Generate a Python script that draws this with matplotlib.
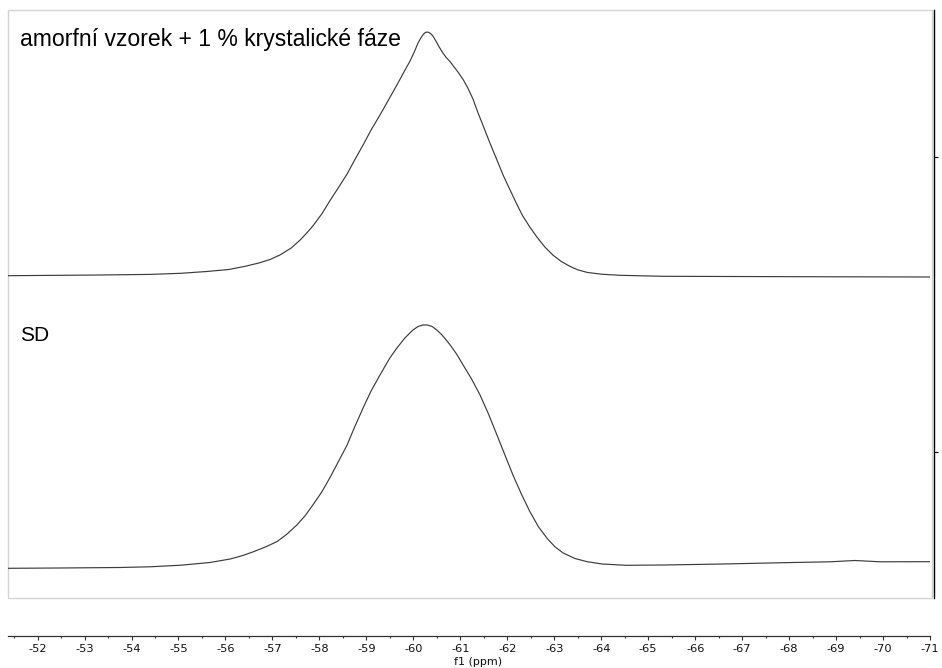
import matplotlib
matplotlib.use("Agg")
import matplotlib.pyplot as plt
from matplotlib.patches import Rectangle
from matplotlib.ticker import MultipleLocator, FixedLocator

plt.rcParams["axes.unicode_minus"] = False

# chemical shift (ppm) and intensity
shift_top = [-51.37, -53.33, -54.40, -55.05, -55.60, -56.07, -56.40, -56.71,
             -56.95, -57.16, -57.40, -57.59, -57.75, -57.86, -58.05, -58.22,
             -58.40, -58.59, -58.75, -58.93, -59.10, -59.29, -59.47, -59.65,
             -59.80, -59.93, -60.02, -60.10, -60.16, -60.21, -60.25, -60.29,
             -60.33, -60.38, -60.43, -60.48, -60.55, -60.63, -60.70, -60.78,
             -60.86, -60.95, -61.06, -61.16, -61.27, -61.37, -61.48, -61.63,
             -61.78, -61.92, -62.06, -62.20, -62.33, -62.48, -62.63, -62.80,
             -62.97, -63.15, -63.34, -63.50, -63.70, -64.00, -64.40, -65.32,
             -68.23, -71.0]
inten_top = [4.3, 5, 5.6, 6.7, 8.5, 10.5, 13.5, 17,
             20.5, 25, 32, 40, 48, 54, 66, 79,
             92, 106, 120, 135, 150, 165, 180, 195,
             208, 219, 228, 237, 242, 245.5, 247.3, 248,
             247.6, 246, 243, 239, 233, 227, 222.5, 218.5,
             213.5, 208, 200.5, 192, 181, 168, 155, 137,
             120, 104, 90, 76, 64, 53, 43, 33,
             25, 18.5, 13.5, 10.2, 7.6, 5.8, 4.7, 3.7,
             3.3, 3]

shift_sd = [-51.37, -52.47, -53.75, -54.39, -55.05, -55.67, -56.10, -56.35,
            -56.58, -56.85, -57.10, -57.30, -57.52, -57.70, -57.86, -58.05,
            -58.22, -58.40, -58.59, -58.75, -58.93, -59.10, -59.29, -59.40,
            -59.50, -59.65, -59.82, -59.99, -60.10, -60.20, -60.30, -60.40,
            -60.50, -60.60, -60.70, -60.80, -60.92, -61.06, -61.24, -61.42,
            -61.60, -61.78, -61.95, -62.12, -62.30, -62.48, -62.66, -62.85,
            -63.02, -63.19, -63.44, -63.70, -64.02, -64.53, -65.32, -66.59,
            -67.87, -68.87, -69.40, -69.94, -71.0]
inten_sd = [1.7, 2, 2.5, 3.2, 4.8, 7.5, 11, 14.2,
            18, 23, 28.5, 35.5, 45, 54.5, 65, 78,
            92, 108, 125, 143, 162, 179, 195, 204,
            212, 222, 232, 240, 243.5, 245, 245, 243.5,
            240, 235.5, 230, 224, 216, 205, 191, 175,
            156, 135, 115, 95, 76, 58.5, 43.5, 31.5,
            23, 17, 11.5, 8.3, 6, 4.7, 5, 6,
            7.3, 8.2, 9.5, 8.2, 8.3]

label_top = "amorfní vzorek + 1 % krystalické fáze"
label_sd = "SD"

# vertical stacking of the two traces
offset_top = 318
offset_sd = 28

W, H = 942, 668
fig = plt.figure(figsize=(W / 100, H / 100), dpi=100)
ax = fig.add_axes([8 / W, 70 / H, 922 / W, 588 / H])

line_kw = dict(color="#3c3c3c", lw=0.85, solid_joinstyle="round")
ax.plot(shift_top, [v + offset_top for v in inten_top], **line_kw)
ax.plot(shift_sd, [v + offset_sd for v in inten_sd], **line_kw)

ax.set_xlim(-51.37, -71.0)
ax.set_ylim(0, 588)

# light grey frame around the spectra
ax.add_patch(Rectangle((0, 0), 1.002, 1, transform=ax.transAxes, fill=False,
                       edgecolor="#d4d4d4", lw=1.0, clip_on=False))
for side in ("top", "left", "right"):
    ax.spines[side].set_visible(False)
ax.spines["bottom"].set_position(("outward", 27.4))
ax.spines["bottom"].set_color("#333333")
ax.spines["bottom"].set_linewidth(0.9)

ax.xaxis.set_major_locator(MultipleLocator(1))
ax.xaxis.set_minor_locator(MultipleLocator(0.5))
ax.tick_params(axis="x", which="major", length=3, width=0.8, color="#333333",
               labelsize=8.2, labelcolor="#111111", pad=3)
ax.tick_params(axis="x", which="minor", length=1.6, width=0.8, color="#333333")
ax.set_yticks([])
ax.set_xlabel("f1 (ppm)", fontsize=8, color="#111111")
ax.xaxis.set_label_coords(0.51, -0.1)

# intensity scale on the right
ax2 = ax.twinx()
ax2.set_ylim(0, 588)
for side in ("top", "left", "bottom"):
    ax2.spines[side].set_visible(False)
ax2.spines["right"].set_position(("outward", 3))
ax2.spines["right"].set_linewidth(1.0)
ax2.yaxis.set_major_locator(FixedLocator([146, 441]))
ax2.tick_params(axis="y", length=3, width=0.8, labelright=False)

fig.text(20 / W, 1 - 46 / H, label_top, fontsize=16.6, family="Liberation Sans",
         va="baseline", ha="left")
fig.text(20 / W, 1 - 341 / H, label_sd, fontsize=15, family="Liberation Sans",
         va="baseline", ha="left")

fig.savefig("out.png", dpi=100)
